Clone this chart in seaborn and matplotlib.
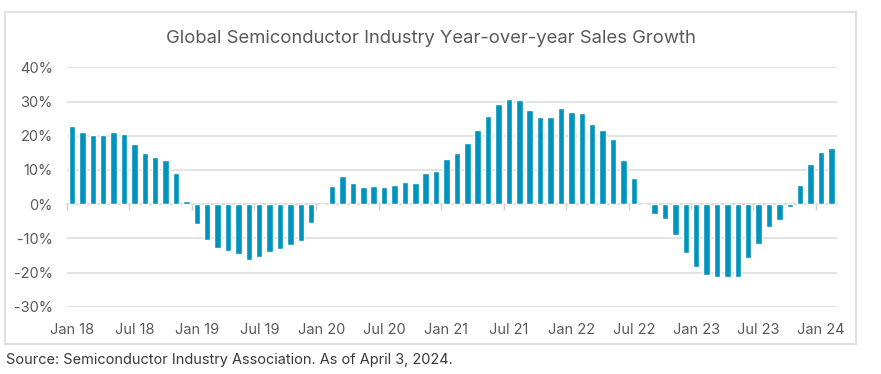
import pandas as pd
import matplotlib.pyplot as plt
import seaborn as sns
from matplotlib.ticker import PercentFormatter
from matplotlib.patches import Rectangle

# Crescimento anual das vendas (%), mês a mês
g2018 = [22.7, 21.1, 20.2, 20.2, 21.1, 20.5, 17.5, 15.0, 13.9, 12.8, 9.2, 0.8]
g2019 = [-5.7, -10.6, -12.9, -13.6, -14.6, -16.4, -15.5, -14.1, -13.0, -12.1, -10.7, -5.5]
g2020 = [-0.3, 5.3, 8.2, 6.2, 5.1, 5.3, 4.9, 5.5, 6.5, 6.2, 9.0, 9.7]
g2021 = [13.3, 14.8, 17.8, 21.6, 25.9, 29.2, 30.6, 30.4, 27.4, 25.6, 25.4, 28.2]
g2022 = [26.9, 26.5, 23.3, 21.6, 19.0, 12.8, 7.5, 0.1, -2.8, -4.4, -9.1, -14.2]
g2023 = [-18.5, -20.7, -21.3, -21.4, -21.4, -15.9, -11.8, -6.8, -4.6, -0.8, 5.5, 11.8]
g2024 = [15.3, 16.4]

crescimento = g2018 + g2019 + g2020 + g2021 + g2022 + g2023 + g2024
meses = pd.date_range('2018-01-01', periods=len(crescimento), freq='MS').strftime('%b %y').tolist()

df = pd.DataFrame({'Mes': meses, 'Crescimento': [v / 100 for v in crescimento]})

# Rótulos do eixo X só em janeiro e julho
pos_rotulos = list(range(0, len(meses), 6))
rotulos = [meses[i] for i in pos_rotulos]

sns.set_style('white')
plt.rcParams['font.family'] = ['Inter', 'DejaVu Sans']
plt.rcParams['axes.unicode_minus'] = False

cinza_texto = '#595959'
cinza_grade = '#dedede'

fig = plt.figure(figsize=(8.81, 3.74), dpi=100)
ax = fig.add_axes([66.8 / 881, 1 - 306.7 / 374, 769.8 / 881, 239.4 / 374])

sns.barplot(data=df, x='Mes', y='Crescimento', color='#0093BE', width=0.62,
            saturation=1, ax=ax, zorder=3)

ax.set_xlim(-0.5, len(meses) - 0.5)
ax.set_ylim(-0.30, 0.40)
ax.set_yticks([-0.3, -0.2, -0.1, 0, 0.1, 0.2, 0.3, 0.4])
ax.yaxis.set_major_formatter(PercentFormatter(1.0, decimals=0))
ax.set_xticks(pos_rotulos)
ax.set_xticklabels(rotulos)
ax.tick_params(axis='both', length=0, labelsize=10.5, labelcolor=cinza_texto)
ax.tick_params(axis='y', pad=10)
ax.tick_params(axis='x', pad=12)
ax.set_xlabel('')
ax.set_ylabel('')
ax.grid(axis='y', color=cinza_grade, linewidth=1.2, zorder=0)
ax.set_axisbelow(True)
for lado in ['top', 'right', 'bottom', 'left']:
    ax.spines[lado].set_visible(False)

# Linha do zero com marcas entre os semestres
eixo_zero = ax.secondary_xaxis(0, transform=ax.transData)
eixo_zero.set_xticks([i - 0.5 for i in pos_rotulos])
eixo_zero.set_xticklabels([])
eixo_zero.tick_params(length=4, color='#cfcfcf', width=1)
eixo_zero.spines['bottom'].set_color('#cfcfcf')
eixo_zero.spines['bottom'].set_linewidth(1.2)

fig.text(0.489, 1 - 43.3 / 374, 'Global Semiconductor Industry Year-over-year Sales Growth',
         ha='center', va='baseline', fontsize=13.3, color=cinza_texto)
fig.text(6 / 881, 1 - 364 / 374, 'Source: Semiconductor Industry Association. As of April 3, 2024.',
         ha='left', va='baseline', fontsize=10.45, color='#3a3a3a')

# Moldura cinza em volta do gráfico
fig.patches.append(Rectangle((5 / 881, 1 - 344 / 374), 851 / 881, 332 / 374,
                             transform=fig.transFigure, fill=False,
                             edgecolor='#e0e0e0', linewidth=1.5))

plt.savefig('out.png', dpi=100)
